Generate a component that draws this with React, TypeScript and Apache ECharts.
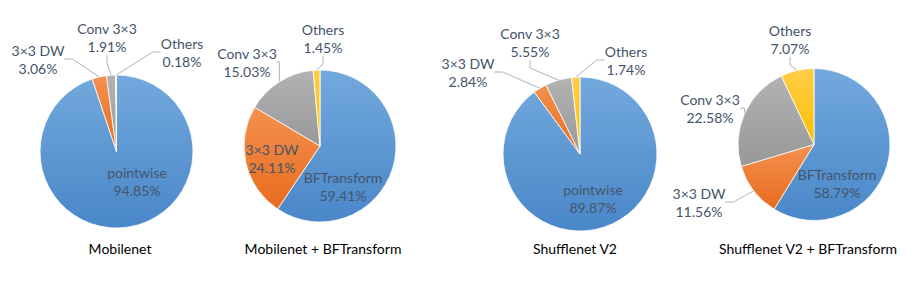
import React, { useEffect, useRef } from "react";
import * as echarts from "echarts";

const categoriesBase = ["pointwise", "3×3 DW", "Conv 3×3", "Others"];
const categoriesBF = ["BFTransform", "3×3 DW", "Conv 3×3", "Others"];
const chartTitles = ["Mobilenet", "Mobilenet + BFTransform", "Shufflenet V2", "Shufflenet V2 + BFTransform"];
const mobilenetValues = [94.85, 3.06, 1.91, 0.18];
const mobilenetBFValues = [59.41, 24.11, 15.03, 1.45];
const shufflenetValues = [89.87, 2.84, 5.55, 1.74];
const shufflenetBFValues = [58.79, 11.56, 22.58, 7.07];

// layout (pixels) – not data
const pieCenters = [
  [116.5, 151.5],
  [320, 146],
  [580, 154],
  [814, 144.5],
];
const pieRadii = [76.5, 76, 77, 76];
const titleX = [120, 323, 575, 808];
const titleY = 248;
const labelPos = [
  [[137, 181], [38, 59], [107, 37], [182, 52]],
  [[343, 186], [272, 158], [247, 62], [323, 38]],
  [[593, 198], [468, 72], [530, 42], [626, 60]],
  [[837, 183], [699, 202], [710, 108], [790, 39]],
];
const insideFlags = [
  [true, false, false, false],
  [true, true, false, false],
  [true, false, false, false],
  [true, false, false, false],
];

const sliceColors = [
  ["#72a9dd", "#4a87c9"],
  ["#f4914f", "#e86b1e"],
  ["#b3b3b3", "#989898"],
  ["#ffcd4a", "#fdbf00"],
];

const FONT = "Lato";

function grad(c: string[]) {
  return new echarts.graphic.LinearGradient(0, 0, 0, 1, [
    { offset: 0, color: c[0] },
    { offset: 1, color: c[1] },
  ]);
}

export default function App() {
  const ref = useRef<HTMLDivElement>(null);
  useEffect(() => {
    if (!ref.current) return;
    const chart = echarts.init(ref.current, undefined, { renderer: "svg" });
    const valueSets = [mobilenetValues, mobilenetBFValues, shufflenetValues, shufflenetBFValues];
    const nameSets = [categoriesBase, categoriesBF, categoriesBase, categoriesBF];
    const series = valueSets.map((vals, si) => ({
      type: "pie",
      center: pieCenters[si],
      radius: pieRadii[si],
      startAngle: 90,
      clockwise: true,
      avoidLabelOverlap: false,
      itemStyle: { borderColor: "#ffffff", borderWidth: 0.8 },
      label: {
        show: true,
        fontFamily: FONT,
        fontSize: 14,
        lineHeight: 18,
        color: "#44546a",
        formatter: (p: any) => `${p.name}\n${p.value.toFixed(2)}%`,
      },
      labelLine: {
        show: true,
        length: 8,
        length2: 8,
        lineStyle: { color: "#a9b3c4", width: 1 },
      },
      emphasis: { disabled: true },
      labelLayout: (p: any) => {
        const pos = labelPos[si][p.dataIndex];
        return { x: pos[0], y: pos[1], align: "center", verticalAlign: "middle" };
      },
      data: vals.map((v, i) => ({
        name: nameSets[si][i],
        value: v,
        itemStyle: { color: grad(sliceColors[i]) },
        label: { position: insideFlags[si][i] ? "inside" : "outside" },
        labelLine: { show: !insideFlags[si][i] },
      })),
    }));
    chart.setOption({
      animation: false,
      backgroundColor: "#ffffff",
      series,
      graphic: chartTitles.map((t, i) => ({
        type: "text",
        x: titleX[i],
        y: titleY,
        style: {
          text: t,
          fontFamily: FONT,
          fontSize: 14,
          fill: "#000000",
          textAlign: "center",
          textVerticalAlign: "middle",
        },
      })),
    });
    return () => chart.dispose();
  }, []);
  return (
    <div
      ref={ref}
      style={{ position: "fixed", left: 0, top: 0, width: 922, height: 292, background: "#fff" }}
    />
  );
}
